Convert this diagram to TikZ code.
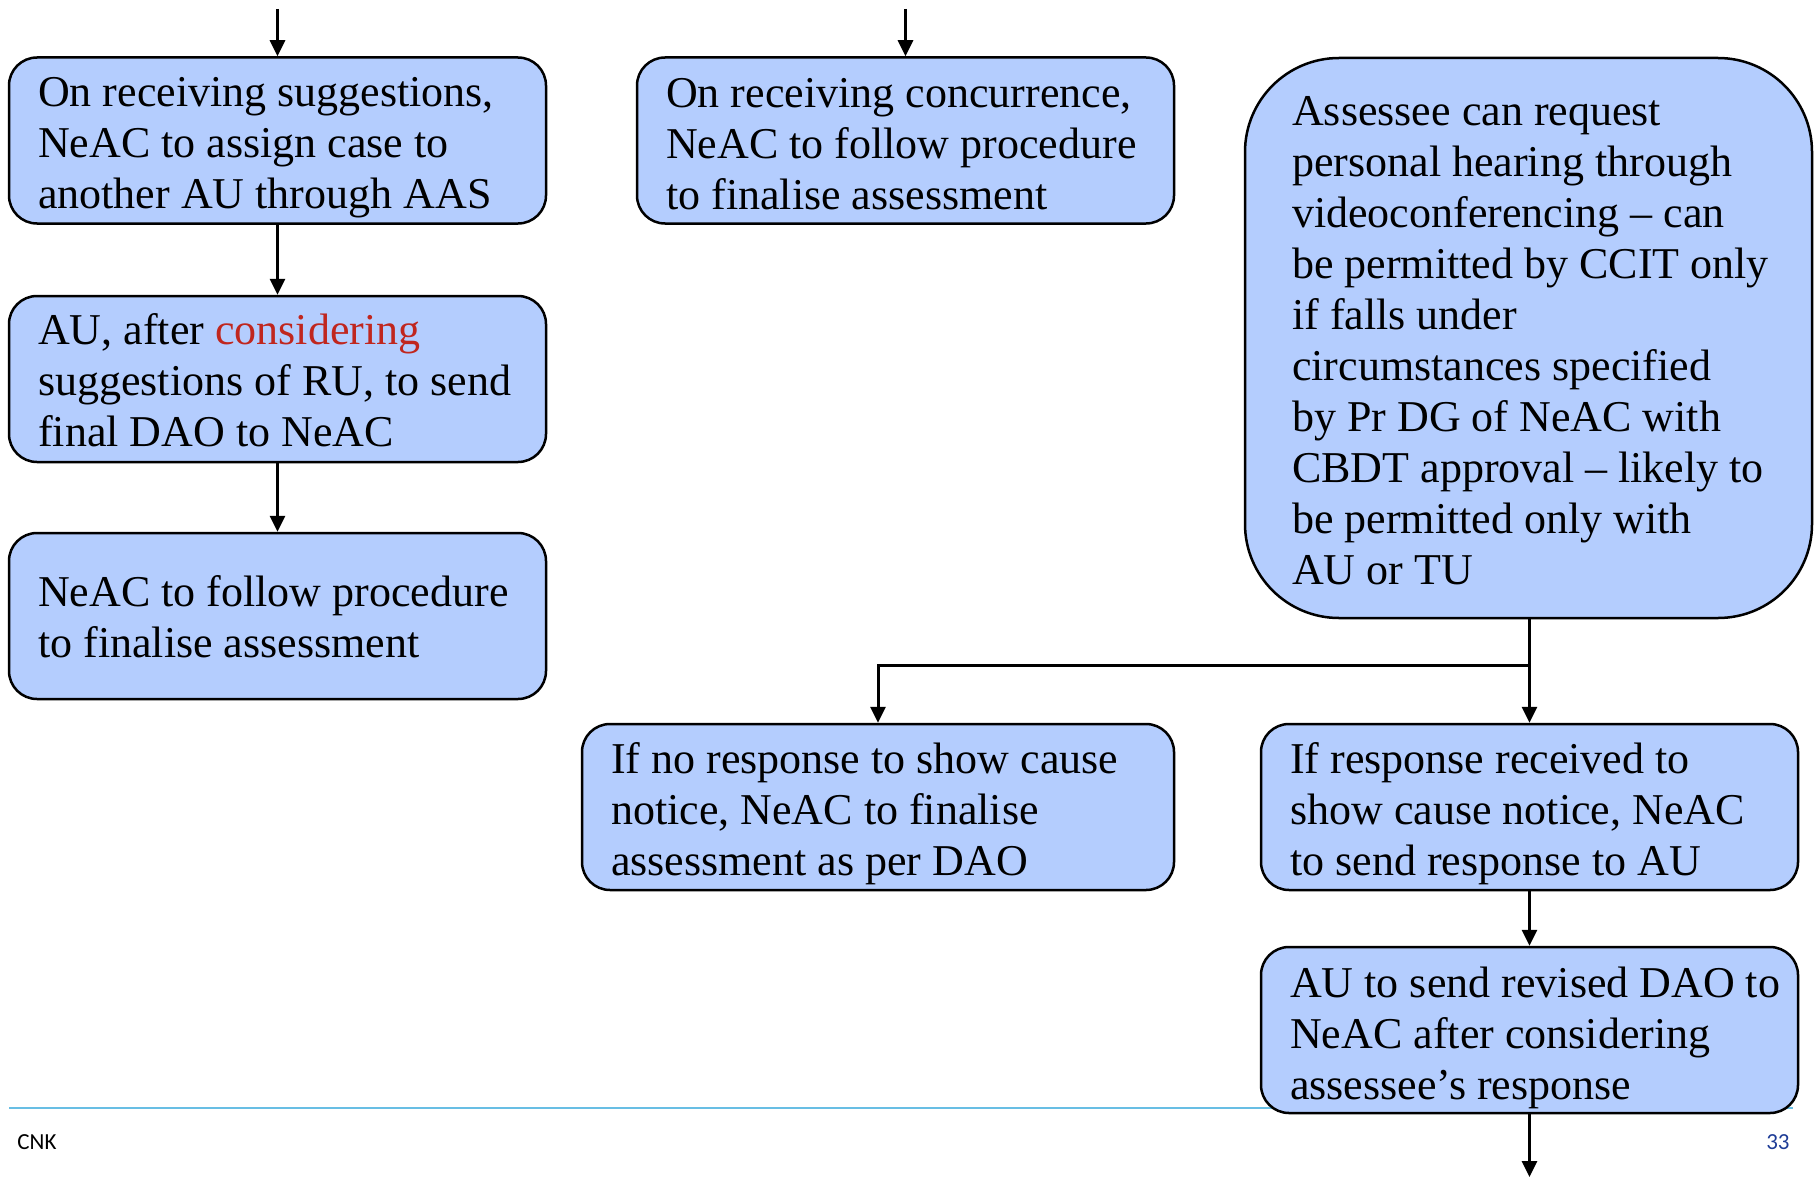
\documentclass[tikz,border=0pt]{standalone}
\usepackage{fontspec}
\setmainfont{Liberation Serif}
\newfontfamily\footfont{Carlito}
\usetikzlibrary{arrows.meta}
\definecolor{boxblue}{RGB}{180,205,254}
\definecolor{hlred}{RGB}{192,38,30}
\definecolor{rulecyan}{RGB}{104,190,228}
\definecolor{pagenum}{RGB}{30,60,150}
\tikzset{
  box/.style={draw=black, line width=1.25pt, fill=boxblue, rounded corners=14pt,
    inner sep=0pt, minimum width=268.5pt, minimum height=83pt},
  bigbox/.style={box, rounded corners=47pt},
  txt/.style={anchor=west, align=left, inner sep=0pt,
    font=\fontsize{22}{25.5}\selectfont},
  flow/.style={line width=1.5pt, -{Triangle[length=8pt,width=7.5pt]}},
  footer/.style={font=\footfont\fontsize{11.5}{13}\selectfont, inner sep=0pt}
}
\begin{document}
\begin{tikzpicture}[x=0.5pt,y=-0.5pt]
\useasboundingbox (0,0) rectangle (1814,1177);

% footer rule, lying under the last box
\coordinate (ruleL) at (9,1108);
\coordinate (ruleR) at (1793,1108);
\draw[rulecyan, line width=0.8pt] (ruleL) -- (ruleR);
\node[footer, anchor=base west] (cnk) at (17,1149) {CNK};
\node[footer, anchor=base east, text=pagenum] (pg) at (1790,1149) {33};

% left column
\node[box] (B1) at (277.5,140.5) {};
\node[txt] (T1) at ([xshift=15pt,yshift=-3.5pt]B1.west) {On receiving suggestions,\\NeAC to assign case to\\another AU through AAS};
\node[box] (B2) at (277.5,379) {};
\node[txt] (T2) at ([xshift=15pt,yshift=-0.5pt]B2.west) {AU, after \textcolor{hlred}{considering}\\suggestions of RU, to send\\final DAO to NeAC};
\node[box] (B3) at (277.5,616) {};
\node[txt] (T3) at ([xshift=15pt,yshift=-0.5pt]B3.west) {NeAC to follow procedure\\to finalise assessment};

% middle column
\node[box] (B4) at (905.5,140.5) {};
\node[txt] (T4) at ([xshift=15pt,yshift=-2pt]B4.west) {On receiving concurrence,\\NeAC to follow procedure\\to finalise assessment};

% right column
\node[bigbox, minimum width=283.5pt, minimum height=280pt] (B5) at (1528.5,338) {};
\node[txt] (T5) at ([xshift=24pt,yshift=-1.5pt]B5.west) {Assessee can request\\personal hearing through\\videoconferencing – can\\be permitted by CCIT only\\if falls under\\circumstances specified\\by Pr DG of NeAC with\\CBDT approval – likely to\\be permitted only with\\AU or TU};

\node[box, minimum width=296pt] (B6) at (878,807) {};
\node[txt] (T6) at ([xshift=15pt,yshift=-3.5pt]B6.west) {If no response to show cause\\notice, NeAC to finalise\\assessment as per DAO};
\node[box] (B7) at (1529.5,807) {};
\node[txt] (T7) at ([xshift=15pt,yshift=-3.5pt]B7.west) {If response received to\\show cause notice, NeAC\\to send response to AU};
\node[box] (B8) at (1529.5,1030) {};
\node[txt] (T8) at ([xshift=15pt,yshift=-4pt]B8.west) {AU to send revised DAO to\\NeAC after considering\\assessee’s response};

% connectors
\coordinate (in1) at (277.5,9);
\coordinate (in4) at (905.5,9);
\coordinate (out8) at (1529.5,1177);
\coordinate (split) at (1529.5,665);
\draw[flow] (in1) -- (B1.north);
\draw[flow] (B1.south) -- (B2.north);
\draw[flow] (B2.south) -- (B3.north);
\draw[flow] (in4) -- (B4.north);
\draw[line width=1.5pt] (B5.south -| split) -- (split);
\draw[flow] (split) -| (B6.north);
\draw[flow] (split) -- (B7.north);
\draw[flow] (B7.south) -- (B8.north);
\draw[flow] (B8.south) -- (out8);
\end{tikzpicture}
\end{document}
